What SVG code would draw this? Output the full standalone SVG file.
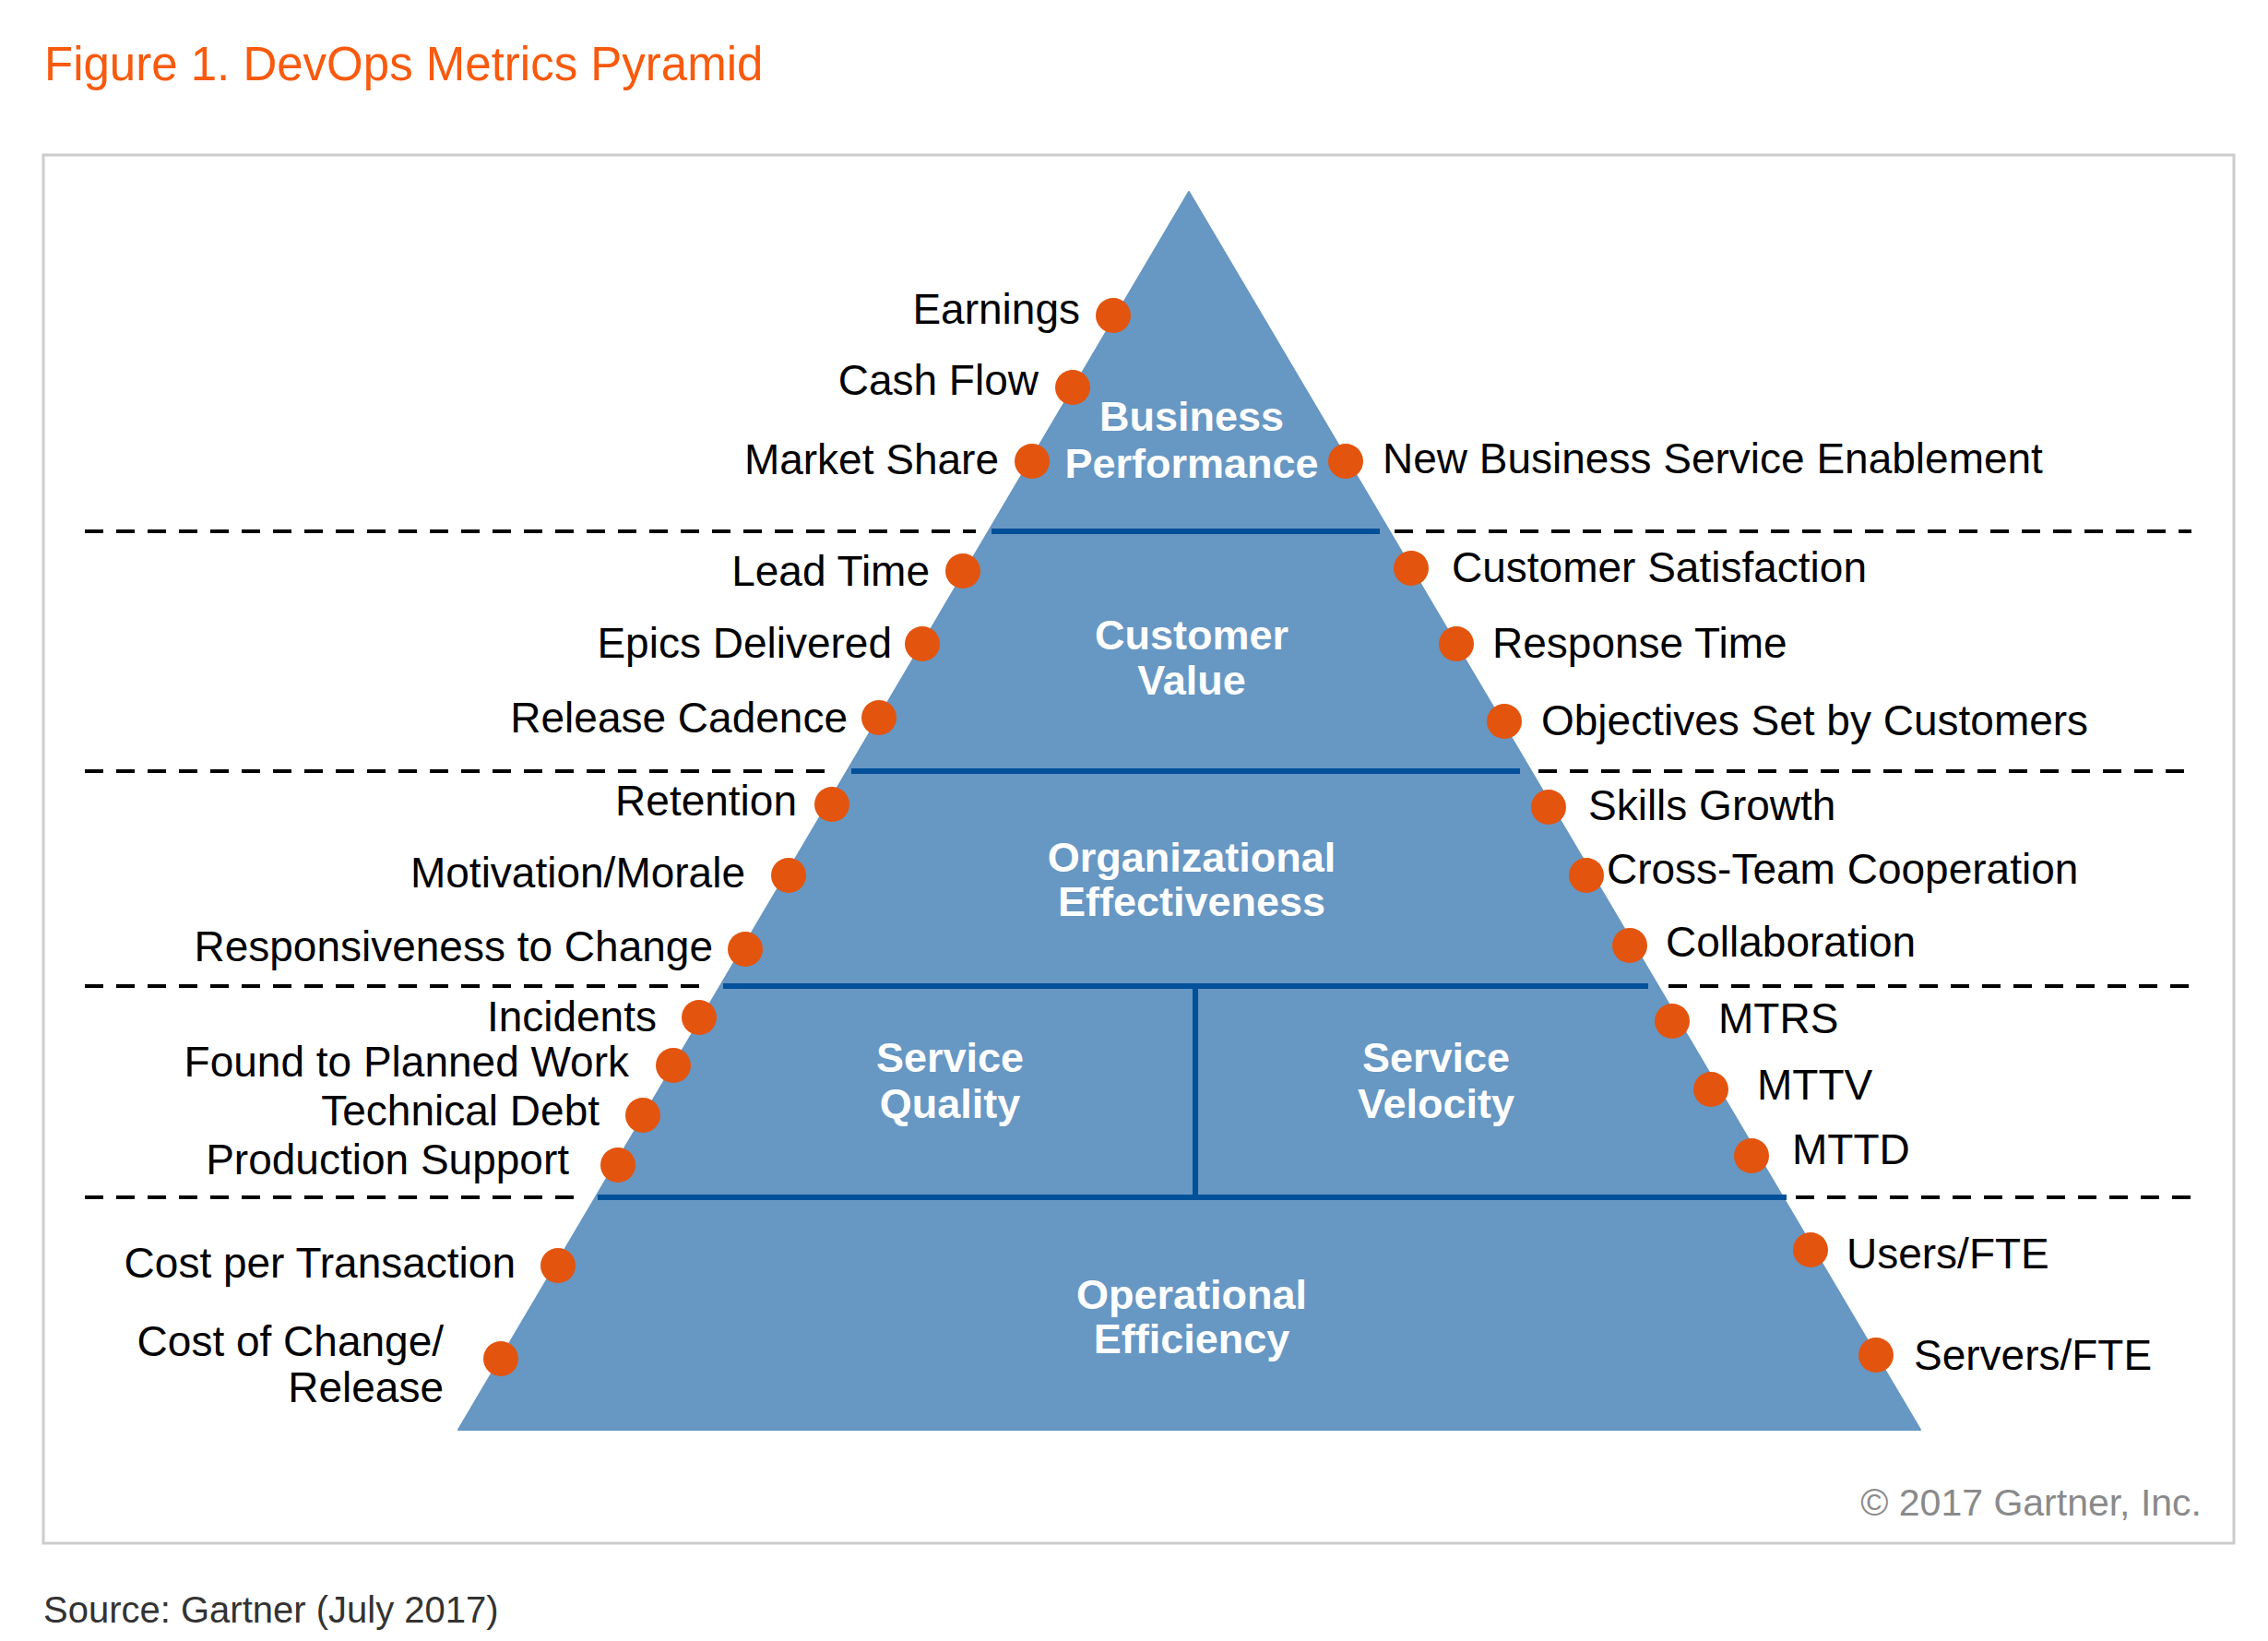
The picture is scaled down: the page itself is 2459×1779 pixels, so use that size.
<svg xmlns="http://www.w3.org/2000/svg" width="2459" height="1779" viewBox="0 0 2459 1779">
<style>
.lbl{font-family:"Liberation Sans",Arial,sans-serif;font-size:46px;fill:#000}
.l{text-anchor:end}
.tier{font-family:"Liberation Sans",Arial,sans-serif;font-size:45px;font-weight:bold;fill:#fff;text-anchor:middle}
.dot{fill:#e3540e}
.dash{stroke:#000;stroke-width:4;stroke-dasharray:20 14;fill:none}
.sep{stroke:#00509a;stroke-width:6;fill:none}
</style>
<rect width="2459" height="1779" fill="#fff"/>
<text x="48" y="87" font-family="'Liberation Sans',Arial,sans-serif" font-size="51" fill="#f85a0e">Figure 1. DevOps Metrics Pyramid</text>
<rect x="47" y="168" width="2375" height="1505" fill="#fff" stroke="#cccccc" stroke-width="3"/>
<g id="pyramid">
<polygon points="1289,208 2082,1550 497,1550" fill="#6797c3" stroke="#6797c3" stroke-width="2" stroke-linejoin="round"/>
</g>
<g id="connectors">
<line class="dash" x1="92" y1="576" x2="1058" y2="576"/>
<line class="dash" x1="1512" y1="576" x2="2376" y2="576"/>
<line class="dash" x1="92" y1="836" x2="905" y2="836"/>
<line class="dash" x1="1668" y1="836" x2="2376" y2="836"/>
<line class="dash" x1="92" y1="1069" x2="766" y2="1069"/>
<line class="dash" x1="1809" y1="1069" x2="2376" y2="1069"/>
<line class="dash" x1="92" y1="1298" x2="632" y2="1298"/>
<line class="dash" x1="1947" y1="1298" x2="2376" y2="1298"/>
<line class="sep" x1="1075" y1="576" x2="1496" y2="576"/>
<line class="sep" x1="923" y1="836" x2="1648" y2="836"/>
<line class="sep" x1="784" y1="1069" x2="1787" y2="1069"/>
<line class="sep" x1="648" y1="1298" x2="1937" y2="1298"/>
<line class="sep" x1="1296" y1="1069" x2="1296" y2="1298"/>
</g>
<g id="tier-business"><text class="tier" x="1292" y="467">Business</text><text class="tier" x="1292" y="518">Performance</text></g>
<g id="tier-customer"><text class="tier" x="1292" y="704">Customer</text><text class="tier" x="1292" y="753">Value</text></g>
<g id="tier-org"><text class="tier" x="1292" y="945">Organizational</text><text class="tier" x="1292" y="993">Effectiveness</text></g>
<g id="tier-quality"><text class="tier" x="1030" y="1162">Service</text><text class="tier" x="1030" y="1212">Quality</text></g>
<g id="tier-velocity"><text class="tier" x="1557" y="1162">Service</text><text class="tier" x="1557" y="1212">Velocity</text></g>
<g id="tier-operational"><text class="tier" x="1292" y="1419">Operational</text><text class="tier" x="1292" y="1467">Efficiency</text></g>
<g id="m-earnings"><circle class="dot" cx="1207" cy="342" r="19"/><text class="lbl l" x="1171" y="351">Earnings</text></g>
<g id="m-cashflow"><circle class="dot" cx="1163" cy="420" r="19"/><text class="lbl l" x="1126" y="428">Cash Flow</text></g>
<g id="m-marketshare"><circle class="dot" cx="1119" cy="500" r="19"/><text class="lbl l" x="1083" y="514">Market Share</text></g>
<g id="m-leadtime"><circle class="dot" cx="1044" cy="619" r="19"/><text class="lbl l" x="1008" y="635">Lead Time</text></g>
<g id="m-epics"><circle class="dot" cx="1000" cy="698" r="19"/><text class="lbl l" x="967" y="713">Epics Delivered</text></g>
<g id="m-release"><circle class="dot" cx="953" cy="778" r="19"/><text class="lbl l" x="919" y="794">Release Cadence</text></g>
<g id="m-retention"><circle class="dot" cx="902" cy="872" r="19"/><text class="lbl l" x="864" y="884">Retention</text></g>
<g id="m-motivation"><circle class="dot" cx="855" cy="949" r="19"/><text class="lbl l" x="808" y="962">Motivation/Morale</text></g>
<g id="m-responsiveness"><circle class="dot" cx="808" cy="1029" r="19"/><text class="lbl l" x="773" y="1042">Responsiveness to Change</text></g>
<g id="m-incidents"><circle class="dot" cx="758" cy="1103" r="19"/><text class="lbl l" x="712" y="1118">Incidents</text></g>
<g id="m-found"><circle class="dot" cx="730" cy="1155" r="19"/><text class="lbl l" x="682" y="1167">Found to Planned Work</text></g>
<g id="m-techdebt"><circle class="dot" cx="697" cy="1209" r="19"/><text class="lbl l" x="650" y="1220">Technical Debt</text></g>
<g id="m-prodsupport"><circle class="dot" cx="670" cy="1263" r="19"/><text class="lbl l" x="617" y="1273">Production Support</text></g>
<g id="m-costtx"><circle class="dot" cx="605" cy="1372" r="19"/><text class="lbl l" x="559" y="1385">Cost per Transaction</text></g>
<g id="m-costchange"><circle class="dot" cx="543" cy="1473" r="19"/><text class="lbl l" x="481" y="1470">Cost of Change/</text><text class="lbl l" x="481" y="1520">Release</text></g>
<g id="m-newbiz"><circle class="dot" cx="1459" cy="500" r="19"/><text class="lbl" x="1499" y="513">New Business Service Enablement</text></g>
<g id="m-custsat"><circle class="dot" cx="1530" cy="616" r="19"/><text class="lbl" x="1574" y="631">Customer Satisfaction</text></g>
<g id="m-response"><circle class="dot" cx="1579" cy="698" r="19"/><text class="lbl" x="1618" y="713">Response Time</text></g>
<g id="m-objectives"><circle class="dot" cx="1631" cy="782" r="19"/><text class="lbl" x="1671" y="797">Objectives Set by Customers</text></g>
<g id="m-skills"><circle class="dot" cx="1679" cy="875" r="19"/><text class="lbl" x="1722" y="889">Skills Growth</text></g>
<g id="m-crossteam"><circle class="dot" cx="1720" cy="949" r="19"/><text class="lbl" x="1742" y="958">Cross-Team Cooperation</text></g>
<g id="m-collab"><circle class="dot" cx="1767" cy="1025" r="19"/><text class="lbl" x="1806" y="1037">Collaboration</text></g>
<g id="m-mtrs"><circle class="dot" cx="1813" cy="1107" r="19"/><text class="lbl" x="1863" y="1120">MTRS</text></g>
<g id="m-mttv"><circle class="dot" cx="1855" cy="1181" r="19"/><text class="lbl" x="1905" y="1192">MTTV</text></g>
<g id="m-mttd"><circle class="dot" cx="1899" cy="1253" r="19"/><text class="lbl" x="1943" y="1262">MTTD</text></g>
<g id="m-users"><circle class="dot" cx="1963" cy="1355" r="19"/><text class="lbl" x="2002" y="1375">Users/FTE</text></g>
<g id="m-servers"><circle class="dot" cx="2034" cy="1469" r="19"/><text class="lbl" x="2075" y="1485">Servers/FTE</text></g>
<text x="2387" y="1643" text-anchor="end" font-family="'Liberation Sans',Arial,sans-serif" font-size="41" fill="#8a8a8a">© 2017 Gartner, Inc.</text>
<text x="47" y="1759" font-family="'Liberation Sans',Arial,sans-serif" font-size="40" fill="#333">Source: Gartner (July 2017)</text>
</svg>
